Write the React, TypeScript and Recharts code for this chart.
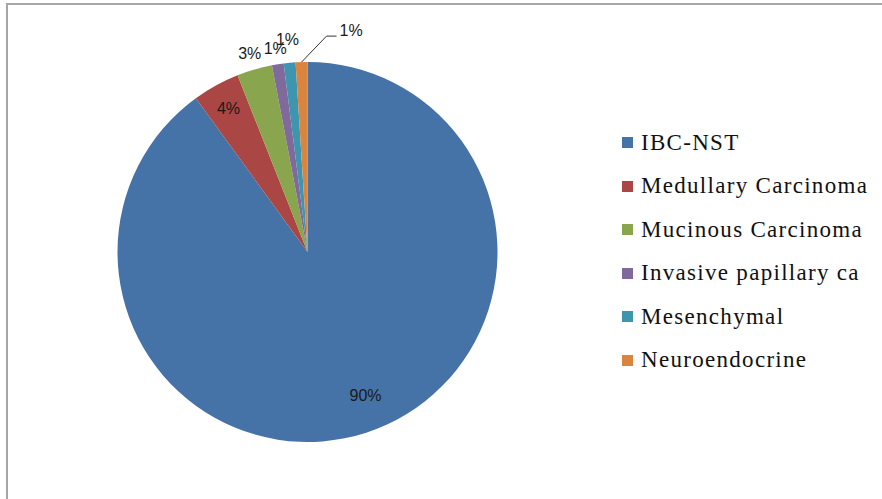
import { Cell, Legend, Pie, PieChart } from "recharts";

const categories = [
  "IBC-NST",
  "Medullary Carcinoma",
  "Mucinous Carcinoma",
  "Invasive papillary ca",
  "Mesenchymal",
  "Neuroendocrine",
];
const shares = [90, 4, 3, 1, 1, 1];
const colors = ["#4572A7", "#AA4643", "#89A54E", "#80699B", "#3D96AE", "#DB843D"];

const data = categories.map((name, i) => ({ name, value: shares[i] }));
const total = shares.reduce((a, b) => a + b, 0);

const RADIAN = Math.PI / 180;
// how far each label sits from the rim (negative = inside the slice)
const labelOffset = [-35, -26, 17, 16, 23, 0];
const labelTurn = [4, 0, 0, 0, 0, 0];

function renderLabel(props: any) {
  const { cx, cy, midAngle, outerRadius, index } = props;
  const text = `${Math.round((shares[index] / total) * 100)}%`;
  const style = { fontFamily: "'Liberation Sans', Arial, sans-serif", fontSize: 16, fill: "#1a1a1a" };

  if (index === categories.length - 1) {
    const sx = cx + outerRadius * Math.cos(-midAngle * RADIAN);
    const sy = cy + outerRadius * Math.sin(-midAngle * RADIAN);
    return (
      <g>
        <polyline
          points={`${sx},${sy} ${sx + 25},${sy - 26} ${sx + 35},${sy - 26}`}
          fill="none"
          stroke="#333"
          strokeWidth={1}
        />
        <text x={sx + 38} y={sy - 32} dominantBaseline="central" textAnchor="start" {...style}>
          {text}
        </text>
      </g>
    );
  }

  const r = outerRadius + labelOffset[index];
  const a = (midAngle + labelTurn[index]) * RADIAN;
  const x = cx + r * Math.cos(-a);
  const y = cy + r * Math.sin(-a);
  return (
    <text x={x} y={y} dominantBaseline="central" textAnchor="middle" {...style}>
      {text}
    </text>
  );
}

function LegendList() {
  return (
    <div>
      {categories.map((name, i) => (
        <div
          key={name}
          style={{ height: 43.5, display: "flex", alignItems: "center" }}
        >
          <span
            style={{
              width: 11,
              height: 11,
              background: colors[i],
              marginRight: 8,
              flexShrink: 0,
            }}
          />
          <span
            style={{
              fontFamily: "'Liberation Serif', 'Times New Roman', serif",
              fontSize: 23,
              letterSpacing: 1.3,
              color: "#111",
              whiteSpace: "nowrap",
            }}
          >
            {name}
          </span>
        </div>
      ))}
    </div>
  );
}

export default function App() {
  return (
    <div
      style={{
        position: "absolute",
        left: 0,
        top: 0,
        width: 882,
        height: 499,
        background: "#fff",
        overflow: "hidden",
      }}
    >
      <div
        style={{
          position: "absolute",
          left: 6,
          top: 3,
          width: 876,
          height: 496,
          borderLeft: "2px solid #a6a6a6",
          borderTop: "2px solid #a6a6a6",
        }}
      />
      <PieChart width={882} height={499} margin={{ top: 0, right: 0, bottom: 0, left: 0 }}>
        <Pie
          data={data}
          dataKey="value"
          nameKey="name"
          cx={307.5}
          cy={252}
          outerRadius={190}
          startAngle={90}
          endAngle={-270}
          stroke="none"
          label={renderLabel}
          labelLine={false}
          isAnimationActive={false}
        >
          {data.map((d, i) => (
            <Cell key={d.name} fill={colors[i]} />
          ))}
        </Pie>
        <Legend
          layout="vertical"
          align="right"
          verticalAlign="top"
          content={() => <LegendList />}
          wrapperStyle={{ left: 622, top: 121, right: "auto", bottom: "auto", width: 260 }}
        />
      </PieChart>
    </div>
  );
}
